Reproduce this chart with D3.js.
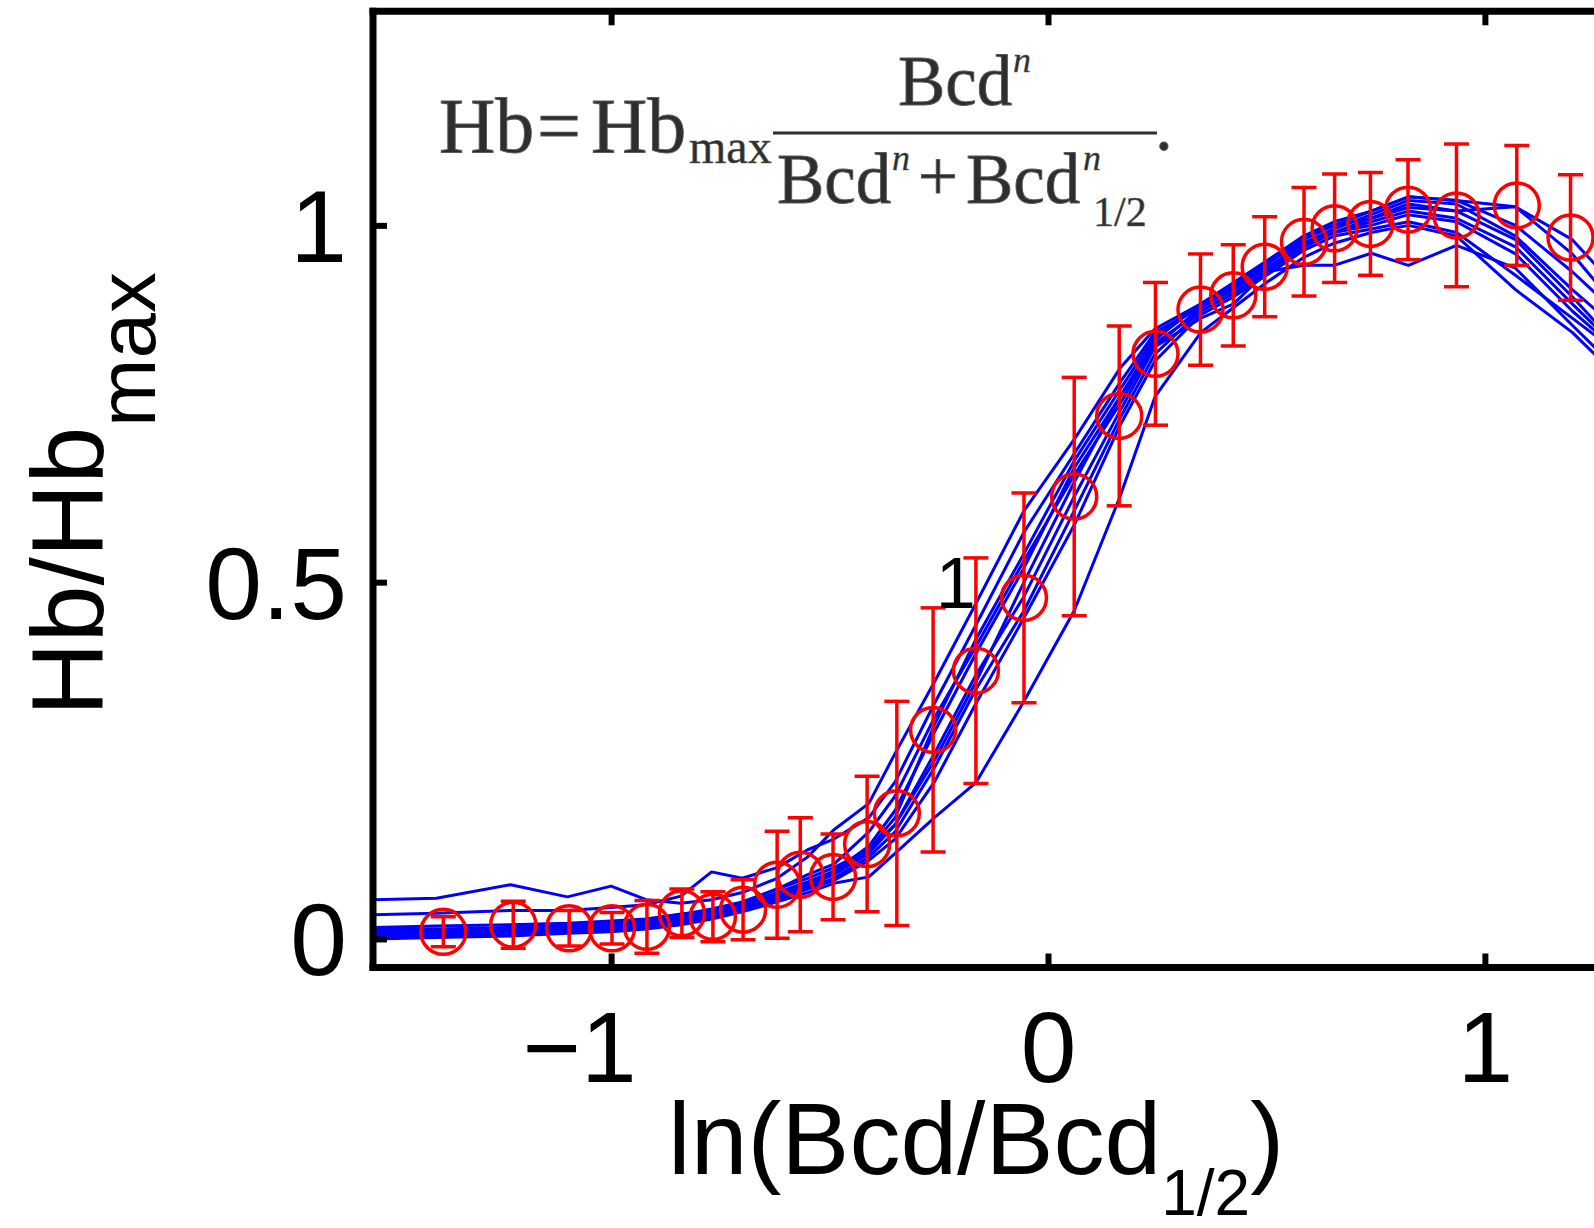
<!DOCTYPE html>
<html><head><meta charset="utf-8">
<script src="https://cdn.jsdelivr.net/npm/d3@7"></script>
<style>
html,body{margin:0;padding:0;background:#fff;overflow:hidden}
svg{display:block}
</style></head><body>
<svg id="chart" width="1594" height="1228"></svg>
<script>
// ---------- data ----------
const xTickValues = [-1, 0, 1];
const xTickLabels = ["\u22121", "0", "1"];
const yTickValues = [0, 0.5, 1];
const yTickLabels = ["0", "0.5", "1"];

// x grid of the individual (blue) curves
const curveX = [-1.545,-1.40,-1.23,-1.10,-1.00,-0.92,-0.84,-0.77,-0.70,-0.62,-0.55,-0.49,-0.41,-0.35,-0.26,-0.165,-0.055,0.06,0.165,0.245,0.35,0.425,0.50,0.585,0.655,0.74,0.825,0.935,1.07,1.20,1.35];
const curve1  = [0.055,0.057,0.076,0.059,0.074,0.055,0.050,0.055,0.065,0.085,0.115,0.153,0.19,0.26,0.36,0.47,0.60,0.70,0.80,0.855,0.89,0.92,0.95,0.975,0.99,1.01,1.03,1.02,0.98,0.90,0.80];
const curve2  = [0.034,0.036,0.040,0.040,0.044,0.048,0.060,0.094,0.085,0.10,0.125,0.14,0.17,0.22,0.33,0.44,0.57,0.68,0.78,0.85,0.885,0.915,0.945,0.985,1.0,1.02,1.04,1.035,1.026,0.96,0.85];
const curve3  = [0.016,0.018,0.020,0.022,0.025,0.028,0.035,0.040,0.050,0.070,0.085,0.10,0.125,0.16,0.25,0.36,0.50,0.64,0.76,0.83,0.87,0.89,0.935,0.944,0.944,0.961,0.944,0.972,0.94,0.86,0.77];
const curve4  = [0.012,0.012,0.015,0.018,0.020,0.025,0.032,0.040,0.048,0.065,0.08,0.095,0.13,0.18,0.29,0.40,0.52,0.66,0.76,0.84,0.89,0.91,0.945,0.98,1.0,1.01,1.025,1.02,1.026,0.98,0.88];
const curve5  = [0.009,0.008,0.010,0.014,0.016,0.020,0.028,0.035,0.045,0.060,0.075,0.09,0.12,0.16,0.26,0.37,0.48,0.62,0.74,0.83,0.885,0.91,0.94,0.975,0.995,1.015,1.035,1.03,0.985,0.91,0.83];
const curve6  = [0.006,0.006,0.008,0.012,0.014,0.018,0.025,0.032,0.042,0.058,0.072,0.085,0.115,0.15,0.24,0.35,0.46,0.60,0.73,0.82,0.88,0.905,0.935,0.97,0.99,1.0,1.015,1.005,0.96,0.88,0.80];
const curve7  = [0.003,0.004,0.006,0.010,0.012,0.016,0.022,0.030,0.040,0.055,0.07,0.082,0.11,0.14,0.22,0.33,0.45,0.58,0.72,0.81,0.875,0.90,0.93,0.965,0.985,0.995,1.005,0.99,0.93,0.87,0.80];
const curve8  = [0.0,0.002,0.004,0.008,0.010,0.014,0.02,0.028,0.038,0.052,0.065,0.078,0.087,0.12,0.17,0.219,0.333,0.46,0.62,0.76,0.85,0.885,0.92,0.955,0.975,0.99,1.0,0.985,0.91,0.85,0.76];
const curve9  = [0.010,0.010,0.012,0.015,0.018,0.022,0.03,0.036,0.046,0.062,0.078,0.092,0.125,0.17,0.30,0.42,0.54,0.67,0.77,0.845,0.89,0.915,0.95,0.985,1.005,1.02,1.04,1.035,1.0,0.935,0.85];
const curve10 = [0.013,0.014,0.016,0.020,0.022,0.026,0.034,0.042,0.052,0.07,0.09,0.105,0.15,0.20,0.31,0.41,0.53,0.65,0.75,0.835,0.88,0.905,0.935,0.97,0.99,1.005,1.02,1.01,0.97,0.89,0.80];
const curves = [curve1,curve2,curve3,curve4,curve5,curve6,curve7,curve8,curve9,curve10];

// mean (red) with error bars
const meanX = [-1.384,-1.224,-1.096,-0.998,-0.918,-0.838,-0.767,-0.698,-0.620,-0.567,-0.492,-0.414,-0.346,-0.263,-0.165,-0.055,0.060,0.163,0.246,0.349,0.424,0.496,0.586,0.656,0.738,0.824,0.935,1.073,1.196];
const meanY = [0.010,0.020,0.015,0.015,0.017,0.036,0.031,0.041,0.076,0.090,0.087,0.133,0.176,0.293,0.376,0.478,0.620,0.733,0.820,0.882,0.902,0.942,0.977,0.996,1.002,1.022,1.014,1.028,0.983];
const errY  = [0.021,0.033,0.025,0.022,0.037,0.034,0.035,0.042,0.075,0.080,0.060,0.095,0.157,0.171,0.158,0.147,0.167,0.126,0.100,0.078,0.071,0.070,0.076,0.076,0.072,0.070,0.100,0.084,0.088];

const annotation = {x: -0.22, y: 0.48, text: "1"};

// ---------- drawing ----------
const svg = d3.select("#chart");
const FONT = "'Liberation Sans', Arial, Helvetica, sans-serif";
const SERIF = "'Liberation Serif', 'Times New Roman', serif";

const x = d3.scaleLinear().domain([-1.545, 1.545]).range([373, 1723]);
const y = d3.scaleLinear().domain([-0.04, 1.3]).range([967.5, 11.3]);

svg.append("defs").append("clipPath").attr("id","plotclip")
  .append("rect").attr("x", x(-1.545)).attr("y", y(1.3))
  .attr("width", x(1.545)-x(-1.545)).attr("height", y(-0.04)-y(1.3));

const plot = svg.append("g").attr("clip-path","url(#plotclip)");

const line = d3.line().x((d,i)=>x(curveX[i])).y(d=>y(d));
plot.selectAll("path.curve").data(curves).join("path")
  .attr("class","curve").attr("d", line)
  .attr("fill","none").attr("stroke","#0000ff").attr("stroke-width",3)
  .attr("stroke-linejoin","round");

const red = "#ff0000";
const pts = meanX.map((mx,i)=>({x:mx, y:meanY[i], e:errY[i]}));
const eb = plot.append("g").attr("stroke", red).attr("stroke-width", 3.5).attr("fill","none");
eb.selectAll("line.v").data(pts).join("line").attr("class","v")
  .attr("x1",d=>x(d.x)).attr("x2",d=>x(d.x)).attr("y1",d=>y(d.y-d.e)).attr("y2",d=>y(d.y+d.e));
eb.selectAll("line.ct").data(pts).join("line").attr("class","ct")
  .attr("x1",d=>x(d.x)-12.5).attr("x2",d=>x(d.x)+12.5).attr("y1",d=>y(d.y+d.e)).attr("y2",d=>y(d.y+d.e));
eb.selectAll("line.cb").data(pts).join("line").attr("class","cb")
  .attr("x1",d=>x(d.x)-12.5).attr("x2",d=>x(d.x)+12.5).attr("y1",d=>y(d.y-d.e)).attr("y2",d=>y(d.y-d.e));
eb.selectAll("circle").data(pts).join("circle")
  .attr("cx",d=>x(d.x)).attr("cy",d=>y(d.y)).attr("r",22.5);

// annotation "1"
svg.append("text").attr("x", x(annotation.x)+4).attr("y", y(annotation.y)+12)
  .attr("text-anchor","middle").attr("font-family",FONT).attr("font-size",72)
  .attr("fill","#000").text(annotation.text);

// axes
const TICKW = 6;
const gB = svg.append("g").attr("transform",`translate(0,${y(-0.04)})`)
  .call(d3.axisBottom(x).tickValues(xTickValues).tickSizeInner(-14).tickSizeOuter(0)
        .tickFormat((d,i)=>xTickLabels[i]));
gB.select(".domain").remove();
gB.selectAll(".tick line").attr("stroke","#000").attr("stroke-width",TICKW);
gB.selectAll(".tick text").attr("font-family",FONT).attr("font-size",100).attr("fill","#000")
  .attr("y",114).attr("dy",null)
  .attr("text-anchor",(d)=> d<0 ? "end" : "middle")
  .attr("x",(d)=> d<0 ? 25 : 0);

const gT = svg.append("g").attr("transform",`translate(0,${y(1.3)})`)
  .call(d3.axisTop(x).tickValues(xTickValues).tickSizeInner(-14).tickSizeOuter(0).tickFormat(""));
gT.select(".domain").remove();
gT.selectAll(".tick line").attr("stroke","#000").attr("stroke-width",TICKW);

const gL = svg.append("g").attr("transform",`translate(${x(-1.545)},0)`)
  .call(d3.axisLeft(y).tickValues(yTickValues).tickSizeInner(-14).tickSizeOuter(0)
        .tickFormat((d,i)=>yTickLabels[i]));
gL.select(".domain").remove();
gL.selectAll(".tick line").attr("stroke","#000").attr("stroke-width",TICKW);
gL.selectAll(".tick text").attr("font-family",FONT).attr("font-size",102).attr("fill","#000")
  .attr("x",-26).attr("dy",36).attr("text-anchor","end");

// spines
const sp = svg.append("g").attr("stroke","#000").attr("stroke-width",7).attr("stroke-linecap","square");
sp.append("line").attr("x1",x(-1.545)).attr("x2",x(1.545)).attr("y1",y(-0.04)).attr("y2",y(-0.04));
sp.append("line").attr("x1",x(-1.545)).attr("x2",x(1.545)).attr("y1",y(1.3)).attr("y2",y(1.3));
sp.append("line").attr("x1",x(-1.545)).attr("x2",x(-1.545)).attr("y1",y(1.3)).attr("y2",y(-0.04));

// axis labels
const xl = svg.append("text").attr("x",668).attr("y",1174)
  .attr("font-family",FONT).attr("font-size",102).attr("fill","#000");
xl.append("tspan").text("ln(Bcd/Bcd");
xl.append("tspan").attr("font-size",64).attr("dy",41).text("1/2");
xl.append("tspan").attr("font-size",102).attr("dy",-41).text(")");

const yl = svg.append("text").attr("transform","translate(103,716) rotate(-90)")
  .attr("font-family",FONT).attr("font-size",102).attr("fill","#000");
yl.append("tspan").text("Hb/Hb");
yl.append("tspan").attr("font-size",82).attr("dy",52).text("max");

// formula
const fcol = "#2e2e2e";
const f = svg.append("g").attr("font-family",SERIF).attr("fill",fcol)
  .attr("stroke","#5a5a5a").attr("stroke-width",0.9);
f.append("text").attr("x",439).attr("y",152).attr("font-size",78).text("Hb");
f.append("text").attr("x",537).attr("y",152).attr("font-size",78).text("=");
f.append("text").attr("x",591).attr("y",152).attr("font-size",78).text("Hb");
f.append("text").attr("x",689).attr("y",163).attr("font-size",48).attr("stroke-width",0.5).text("max");
f.append("line").attr("x1",773).attr("x2",1157).attr("y1",133).attr("y2",133)
  .attr("stroke",fcol).attr("stroke-width",3);
f.append("text").attr("x",898).attr("y",105).attr("font-size",71).text("Bcd");
f.append("text").attr("x",1013).attr("y",72).attr("font-size",36).attr("font-style","italic").attr("stroke-width",0.4).text("n");
f.append("text").attr("x",777).attr("y",203).attr("font-size",71).text("Bcd");
f.append("text").attr("x",892).attr("y",170).attr("font-size",36).attr("font-style","italic").attr("stroke-width",0.4).text("n");
f.append("text").attr("x",918).attr("y",200).attr("font-size",71).text("+");
f.append("text").attr("x",966).attr("y",203).attr("font-size",71).text("Bcd");
f.append("text").attr("x",1083).attr("y",170).attr("font-size",36).attr("font-style","italic").attr("stroke-width",0.4).text("n");
f.append("text").attr("x",1093).attr("y",226).attr("font-size",42).attr("stroke-width",0.5).text("1/2");
f.append("text").attr("x",1155).attr("y",150).attr("font-size",71).text(".");
</script>
</body></html>
